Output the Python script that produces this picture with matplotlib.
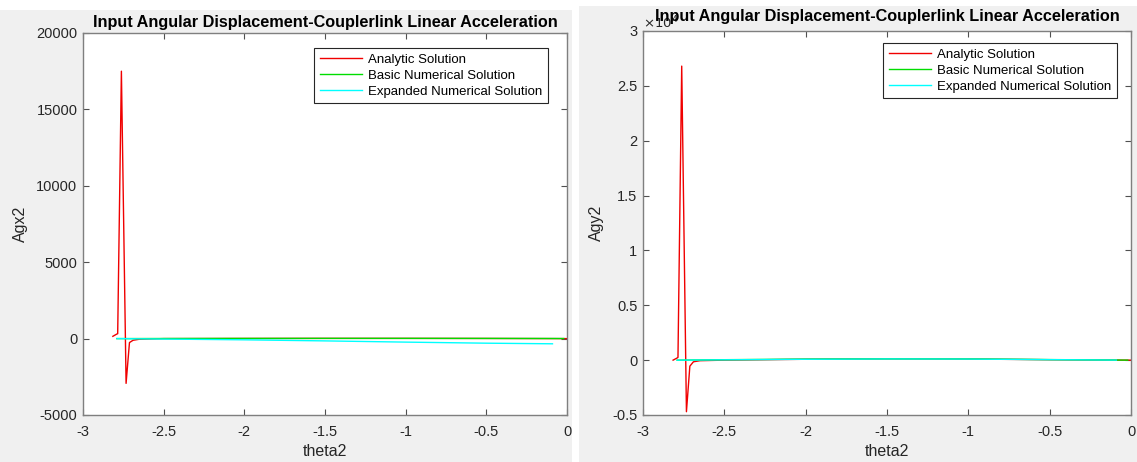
import matplotlib
matplotlib.use("Agg")
import matplotlib.pyplot as plt
from matplotlib.patches import Rectangle
from matplotlib.ticker import FuncFormatter

plt.rcParams['font.family'] = ['Liberation Sans', 'DejaVu Sans']
plt.rcParams['axes.unicode_minus'] = False

W, H = 1137, 462

# analytic solution (theta2 in rad)
theta_an = [-2.815, -2.79, -2.785, -2.762, -2.733, -2.712, -2.69, -2.65, -2.5, -2.0, -1.5, -1.0, -0.5, -0.05, 0.0]
agx2_an = [150, 300, 320, 17500, -2930, -260, -110, -40, 0, 10, 15, 15, 10, 0, 0]
agy2_an = [0, 200, 250, 26800, -4700, -550, -150, -50, 0, 80, 120, 100, 40, 0, 0]

# numerical solutions
theta_num = [-2.79, -2.5, -2.0, -1.5, -1.0, -0.5, -0.1, -0.02]
agx2_basic = [0, 5, 10, 15, 15, 12, 8, 5]
agy2_basic = [0, 40, 90, 120, 110, 50, 10, 0]
theta_exp = [-2.79, -2.5, -2.0, -1.5, -1.0, -0.5, -0.09]
agx2_exp = [0, -30, -80, -150, -230, -300, -340]
agy2_exp = [0, 30, 80, 110, 100, 45, 5]

panels = [
    dict(ylabel="Agx2", an=agx2_an, basic=agx2_basic, exp=agx2_exp, ylim=(-5000, 20000),
         yticks=[-5000, 0, 5000, 10000, 15000, 20000], scale=1.0,
         box=(83, 33, 567, 415), legend=(548, 48), title_pad=4.5),
    dict(ylabel="Agy2", an=agy2_an, basic=agy2_basic, exp=agy2_exp, ylim=(-5000, 30000),
         yticks=[-5000, 0, 5000, 10000, 15000, 20000, 25000, 30000], scale=1e4,
         box=(643, 31, 1131, 415), legend=(1117, 43), title_pad=7.5),
]

fig = plt.figure(figsize=(W / 100, H / 100), dpi=100, facecolor='white')
# grey window backgrounds
fig.patches.append(Rectangle((0, 0), 572 / W, 1 - 10 / H, transform=fig.transFigure,
                             facecolor='#f0f0f0', edgecolor='none', zorder=-10))
fig.patches.append(Rectangle((579 / W, 0), 1 - 579 / W, 1 - 6 / H, transform=fig.transFigure,
                             facecolor='#f0f0f0', edgecolor='none', zorder=-10))

for p in panels:
    x0, y0, x1, y1 = p['box']
    ax = fig.add_axes([x0 / W, 1 - y1 / H, (x1 - x0) / W, (y1 - y0) / H])
    ax.set_facecolor('white')
    ax.plot(theta_an, p['an'], color='#f00000', lw=1.0, label='Analytic Solution')
    ax.plot(theta_num, p['basic'], color='#00dd00', lw=1.0, label='Basic Numerical Solution')
    ax.plot(theta_exp, p['exp'], color='#00ffff', lw=1.0, label='Expanded Numerical Solution')
    ax.set_xlim(-3, 0)
    ax.set_ylim(*p['ylim'])
    ax.set_yticks(p['yticks'])
    ax.set_xticks([-3, -2.5, -2, -1.5, -1, -0.5, 0])
    ax.xaxis.set_major_formatter(FuncFormatter(lambda v, pos: '%g' % v))
    ax.yaxis.set_major_formatter(FuncFormatter(lambda v, pos, s=p['scale']: '%g' % (v / s)))
    ax.tick_params(direction='in', length=4, width=0.8, color='#505050', labelsize=10.5,
                   top=True, right=True, labelcolor='#262626')
    ax.tick_params(axis='x', pad=7)
    ax.tick_params(axis='y', pad=4)
    for sp in ax.spines.values():
        sp.set_color('#7f7f7f')
        sp.set_linewidth(1.0)
    ax.set_xlabel('theta2', fontsize=11.5, color='#262626', labelpad=4)
    ax.set_ylabel(p['ylabel'], fontsize=11.5, color='#262626', labelpad=6)
    if p['scale'] != 1.0:
        ax.text(0.0, 1.0, r'$\times10^4$', transform=ax.transAxes, fontsize=9.5,
                color='#262626', ha='left', va='bottom')
    ax.set_title('Input Angular Displacement-Couplerlink Linear Acceleration',
                 fontsize=11.7, fontweight='bold', pad=p['title_pad'])
    lx, ly = p['legend']
    leg = ax.legend(loc='upper right', bbox_to_anchor=(lx / W, 1 - ly / H),
                    bbox_transform=fig.transFigure, borderaxespad=0,
                    fontsize=9.5, handlelength=3.2, frameon=True, fancybox=False,
                    labelspacing=0.3, borderpad=0.4, handletextpad=0.5)
    leg.get_frame().set_edgecolor('#262626')
    leg.get_frame().set_linewidth(0.8)
    leg.get_frame().set_alpha(1.0)

fig.savefig('out.png', dpi=100, facecolor=fig.get_facecolor())
